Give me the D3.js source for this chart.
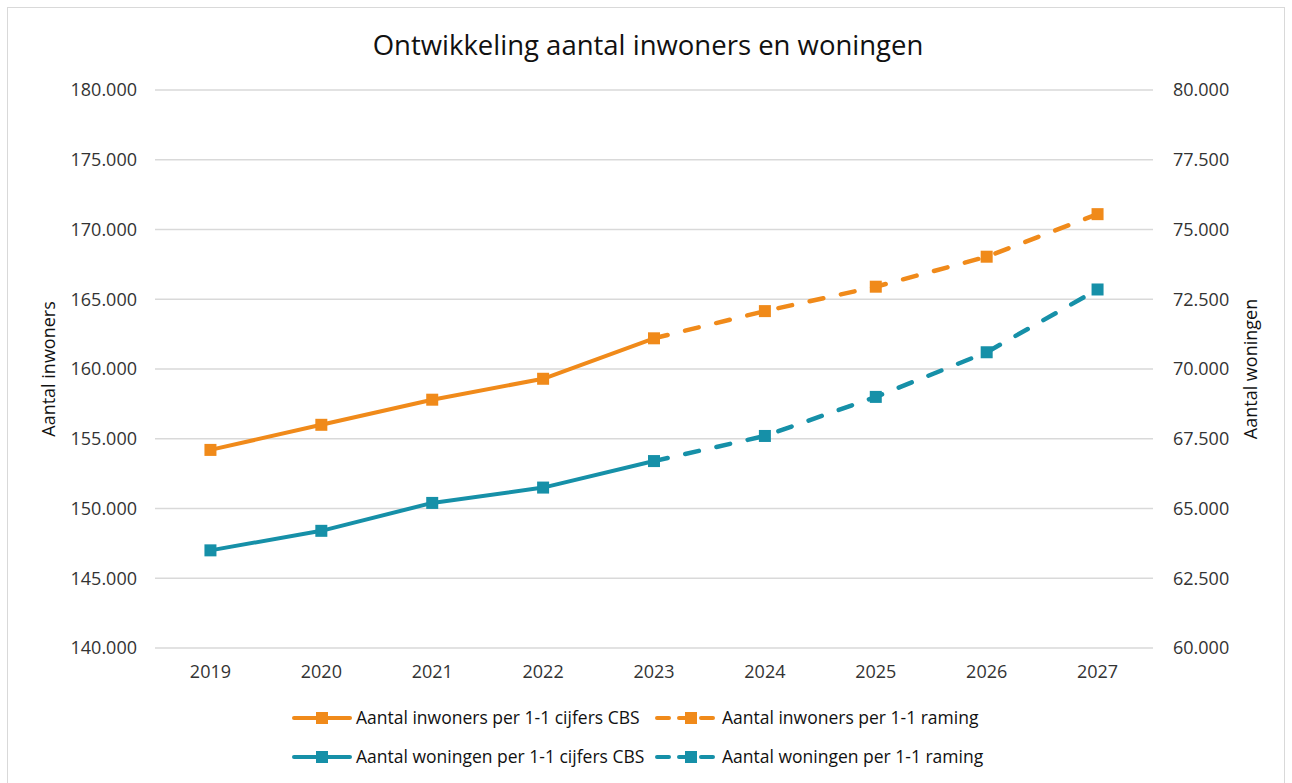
<!DOCTYPE html>
<html lang="nl">
<head>
  <meta charset="UTF-8">
  <title>Ontwikkeling aantal inwoners en woningen</title>
  <style>
    body { margin: 0; background: #fff; }
    svg { font-family: "Open Sans", "Noto Sans", sans-serif; }
  </style>
</head>
<body>
  <script src="https://d3js.org/d3.v7.min.js"></script>
  <script>
    // jaren
    const years = ["2019", "2020", "2021", "2022", "2023", "2024", "2025", "2026", "2027"];
    // inwoners (linker as)
    const inwoners = [154200, 156000, 157800, 159300, 162200, 164150, 165900, 168050, 171100];
    // woningen (rechter as)
    const woningen = [63500, 64200, 65200, 65750, 66700, 67600, 69000, 70600, 72850];
    // laatste jaar met CBS-cijfers (index), daarna raming
    const lastCbs = 4;

    const leftTicks = [140000, 145000, 150000, 155000, 160000, 165000, 170000, 175000, 180000];
    const rightTicks = [60000, 62500, 65000, 67500, 70000, 72500, 75000, 77500, 80000];

    const orange = "#f08a1a";
    const teal = "#1690a8";

    const W = 1292, H = 783;
    const margin = {left: 155, right: 139, top: 90, bottom: 135};

    const svg = d3.select("body").append("svg")
      .attr("width", W)
      .attr("height", H);

    // rand om de grafiek
    svg.append("rect")
      .attr("x", 7.5).attr("y", 7.5)
      .attr("width", W - 15).attr("height", H)
      .attr("fill", "none")
      .attr("stroke", "#d9d9d9");

    const x = d3.scaleBand()
      .domain(years)
      .range([margin.left, W - margin.right]);

    const yL = d3.scaleLinear()
      .domain([140000, 180000])
      .range([H - margin.bottom, margin.top]);

    const yR = d3.scaleLinear()
      .domain([60000, 80000])
      .range([H - margin.bottom, margin.top]);

    const fmt = d3.formatLocale({decimal: ",", thousands: ".", grouping: [3], currency: ["€", ""]}).format(",.0f");

    // rasterlijnen
    svg.append("g")
      .selectAll("line")
      .data(leftTicks)
      .join("line")
      .attr("x1", margin.left)
      .attr("x2", W - margin.right)
      .attr("y1", d => yL(d))
      .attr("y2", d => yL(d))
      .attr("stroke", "#d9d9d9")
      .attr("stroke-width", 1.3);

    // assen
    const axL = svg.append("g")
      .attr("transform", `translate(${margin.left},0)`)
      .call(d3.axisLeft(yL).tickValues(leftTicks).tickFormat(fmt).tickSize(0).tickPadding(18));
    const axR = svg.append("g")
      .attr("transform", `translate(${W - margin.right},0)`)
      .call(d3.axisRight(yR).tickValues(rightTicks).tickFormat(fmt).tickSize(0).tickPadding(20));
    const axX = svg.append("g")
      .attr("transform", `translate(0,${H - margin.bottom})`)
      .call(d3.axisBottom(x).tickSize(0).tickPadding(17));
    [axL, axR, axX].forEach(a => {
      a.select(".domain").remove();
      a.attr("font-family", null).attr("font-size", 18);
      a.selectAll("text").attr("fill", "#333");
    });

    // astitels
    svg.append("text")
      .attr("transform", `translate(55,${(margin.top + H - margin.bottom) / 2}) rotate(-90)`)
      .attr("text-anchor", "middle")
      .attr("font-size", 18)
      .attr("fill", "#111")
      .text("Aantal inwoners");
    svg.append("text")
      .attr("transform", `translate(1257,${(margin.top + H - margin.bottom) / 2}) rotate(-90)`)
      .attr("text-anchor", "middle")
      .attr("font-size", 18)
      .attr("fill", "#111")
      .text("Aantal woningen");

    // titel
    svg.append("text")
      .attr("x", 648)
      .attr("y", 55)
      .attr("text-anchor", "middle")
      .attr("font-size", 27.5)
      .attr("fill", "#111")
      .text("Ontwikkeling aantal inwoners en woningen");

    const cx = i => x(years[i]) + x.bandwidth() / 2;

    function drawSeries(values, scale, color) {
      const pts = values.map((v, i) => [cx(i), scale(v)]);
      const line = d3.line();
      svg.append("path")
        .attr("d", line(pts.slice(0, lastCbs + 1)))
        .attr("fill", "none")
        .attr("stroke", color)
        .attr("stroke-width", 4)
        .attr("stroke-linejoin", "round");
      svg.append("path")
        .attr("d", line(pts.slice(lastCbs)))
        .attr("fill", "none")
        .attr("stroke", color)
        .attr("stroke-width", 4.5)
        .attr("stroke-linecap", "round")
        .attr("stroke-dasharray", "14 18");
      svg.append("g")
        .selectAll("rect")
        .data(pts)
        .join("rect")
        .attr("x", d => d[0] - 6)
        .attr("y", d => d[1] - 6)
        .attr("width", 12)
        .attr("height", 12)
        .attr("fill", color);
    }

    drawSeries(inwoners, yL, orange);
    drawSeries(woningen, yR, teal);

    // legenda
    const legendItems = [
      {label: "Aantal inwoners per 1-1 cijfers CBS", color: orange, dash: null, x: 292, y: 718},
      {label: "Aantal inwoners per 1-1 raming", color: orange, dash: "12 10", x: 655, y: 718},
      {label: "Aantal woningen per 1-1 cijfers CBS", color: teal, dash: null, x: 292, y: 757},
      {label: "Aantal woningen per 1-1 raming", color: teal, dash: "12 10", x: 655, y: 757}
    ];
    const lg = svg.append("g")
      .selectAll("g")
      .data(legendItems)
      .join("g")
      .attr("transform", d => `translate(${d.x},${d.y})`);
    lg.append("line")
      .attr("x1", 2).attr("x2", 58)
      .attr("stroke", d => d.color)
      .attr("stroke-width", 4)
      .attr("stroke-linecap", "round")
      .attr("stroke-dasharray", d => d.dash);
    lg.append("rect")
      .attr("x", d => d.dash ? 30 : 24)
      .attr("y", -6)
      .attr("width", 12).attr("height", 12)
      .attr("fill", d => d.color);
    lg.append("text")
      .attr("x", d => d.dash ? 67 : 64)
      .attr("y", 6)
      .attr("font-size", 17.5)
      .attr("fill", "#111")
      .text(d => d.label);
  </script>
</body>
</html>
